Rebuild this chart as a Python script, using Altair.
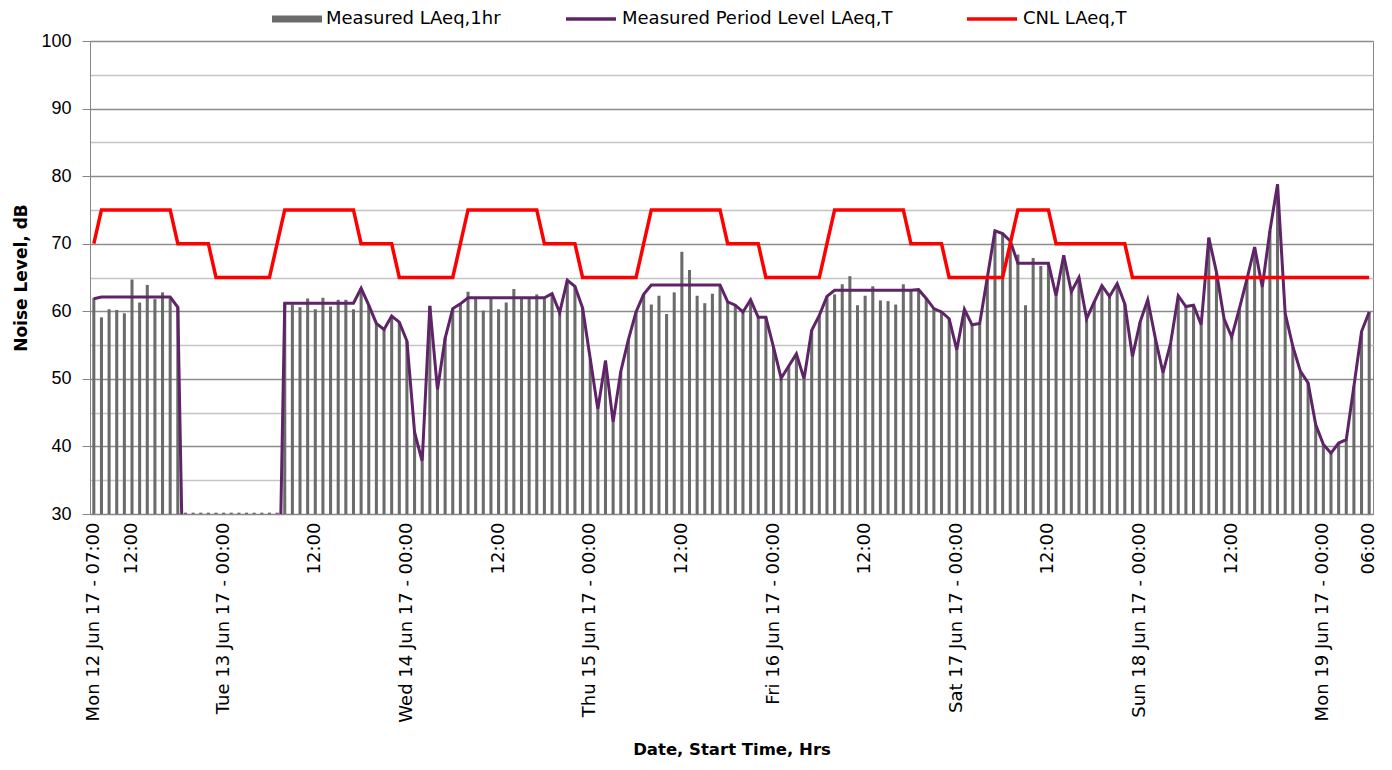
import json
import altair as alt
import pandas as pd

# ---------------- data ----------------
# hour index 0 = Mon 12 Jun 17 07:00, one category per hour, 168 categories
hourly_mon12 = [62.0, 59.1, 60.3, 60.2, 59.7, 64.7, 61.3, 63.9, 61.8, 62.8, 61.9, 60.6,
                30.2, 30.2, 30.2, 30.2, 30.2]
hourly_tue13 = [30.2, 30.2, 30.2, 30.2, 30.2, 30.2, 30.2, 30.2, 61.2, 61.0, 60.6, 61.9,
                60.3, 62.0, 60.7, 61.7, 61.7, 60.3, 63.4, 60.9, 58.2, 57.3, 59.3, 58.4]
hourly_wed14 = [55.6, 42.1, 37.8, 60.8, 48.4, 56.0, 60.4, 61.1, 62.9, 61.9, 60.1, 62.0,
                60.3, 61.3, 63.3, 61.9, 62.0, 62.5, 62.0, 62.6, 59.8, 64.6, 63.7, 60.5]
hourly_thu15 = [53.0, 45.5, 52.7, 43.6, 51.1, 55.8, 59.9, 62.5, 61.0, 62.3, 59.6, 62.8,
                68.8, 66.1, 62.3, 61.2, 62.6, 63.8, 61.4, 60.9, 59.9, 61.7, 59.1, 59.1]
hourly_fri16 = [54.7, 50.1, 51.9, 53.7, 50.0, 57.2, 59.4, 62.2, 62.5, 64.0, 65.2, 60.9,
                62.3, 63.7, 61.6, 61.5, 61.0, 64.0, 63.0, 63.2, 61.9, 60.4, 59.9, 58.9]
hourly_sat17 = [54.3, 60.3, 58.0, 58.2, 65.0, 71.9, 71.5, 70.4, 68.4, 60.9, 67.9, 66.7,
                67.0, 62.3, 68.3, 62.9, 65.0, 58.9, 61.4, 63.8, 62.2, 64.1, 61.1, 53.3]
hourly_sun18 = [58.4, 61.7, 56.0, 50.9, 55.3, 62.3, 60.7, 60.9, 58.0, 70.9, 65.8, 58.9,
                56.2, 60.4, 64.8, 69.5, 63.6, 71.9, 78.8, 59.7, 54.8, 51.1, 49.4, 43.2]
hourly_mon19 = [40.3, 39.0, 40.5, 41.0, 48.9, 57.0, 59.9]

period_mon12 = [61.85, 62.1, 62.1, 62.1, 62.1, 62.1, 62.1, 62.1, 62.1, 62.1, 62.1, 60.6,
                0, 0, 0, 0, 0]
period_tue13 = [0, 0, 0, 0, 0, 0, 0, 0, 61.2, 61.2, 61.2, 61.2,
                61.2, 61.2, 61.2, 61.2, 61.2, 61.2, 63.4, 60.9, 58.2, 57.3, 59.3, 58.4]
period_wed14 = [55.6, 42.1, 37.8, 60.8, 48.4, 56.0, 60.4, 61.1, 62.0, 62.0, 62.0, 62.0,
                62.0, 62.0, 62.0, 62.0, 62.0, 62.0, 62.0, 62.6, 59.8, 64.6, 63.7, 60.5]
period_thu15 = [53.0, 45.5, 52.7, 43.6, 51.1, 55.8, 59.9, 62.5, 63.9, 63.9, 63.9, 63.9,
                63.9, 63.9, 63.9, 63.9, 63.9, 63.9, 61.4, 60.9, 59.9, 61.7, 59.1, 59.1]
period_fri16 = [54.7, 50.1, 51.9, 53.7, 50.0, 57.2, 59.4, 62.2, 63.1, 63.1, 63.1, 63.1,
                63.1, 63.1, 63.1, 63.1, 63.1, 63.1, 63.1, 63.2, 61.9, 60.4, 59.9, 58.9]
period_sat17 = [54.3, 60.3, 58.0, 58.2, 65.0, 71.9, 71.5, 70.4, 67.1, 67.1, 67.1, 67.1,
                67.1, 62.3, 68.3, 62.9, 65.0, 58.9, 61.4, 63.8, 62.2, 64.1, 61.1, 53.3]
period_sun18 = [58.4, 61.7, 56.0, 50.9, 55.3, 62.3, 60.7, 60.9, 58.0, 70.9, 65.8, 58.9,
                56.2, 60.4, 64.8, 69.5, 63.6, 71.9, 78.8, 59.7, 54.8, 51.1, 49.4, 43.2]
period_mon19 = [40.3, 39.0, 40.5, 41.0, 48.9, 57.0, 59.9]

cnl_mon12 = [70, 75, 75, 75, 75, 75, 75, 75, 75, 75, 75, 70, 70, 70, 70, 70, 65]
cnl_tue13 = [65, 65, 65, 65, 65, 65, 65, 70, 75, 75, 75, 75,
             75, 75, 75, 75, 75, 75, 70, 70, 70, 70, 70, 65]
cnl_wed14 = [65, 65, 65, 65, 65, 65, 65, 70, 75, 75, 75, 75,
             75, 75, 75, 75, 75, 75, 70, 70, 70, 70, 70, 65]
cnl_thu15 = [65, 65, 65, 65, 65, 65, 65, 70, 75, 75, 75, 75,
             75, 75, 75, 75, 75, 75, 70, 70, 70, 70, 70, 65]
cnl_fri16 = [65, 65, 65, 65, 65, 65, 65, 70, 75, 75, 75, 75,
             75, 75, 75, 75, 75, 75, 70, 70, 70, 70, 70, 65]
cnl_sat17 = [65, 65, 65, 65, 65, 65, 65, 70, 75, 75, 75, 75,
             75, 70, 70, 70, 70, 70, 70, 70, 70, 70, 70, 65]
cnl_sun18 = [65, 65, 65, 65, 65, 65, 65, 65, 65, 65, 65, 65,
             65, 65, 65, 65, 65, 65, 65, 65, 65, 65, 65, 65]
cnl_mon19 = [65, 65, 65, 65, 65, 65, 65]

tick_idx = [0, 5, 17, 29, 41, 53, 65, 77, 89, 101, 113, 125, 137, 149, 161, 167]
tick_text = ["Mon 12 Jun 17 - 07:00", "12:00", "Tue 13 Jun 17 - 00:00", "12:00",
             "Wed 14 Jun 17 - 00:00", "12:00", "Thu 15 Jun 17 - 00:00", "12:00",
             "Fri 16 Jun 17 - 00:00", "12:00", "Sat 17 Jun 17 - 00:00", "12:00",
             "Sun 18 Jun 17 - 00:00", "12:00", "Mon 19 Jun 17 - 00:00", "06:00"]

y_ticks = [30, 35, 40, 45, 50, 55, 60, 65, 70, 75, 80, 85, 90, 95, 100]

series_names = ["Measured LAeq,1hr", "Measured Period Level LAeq,T", "CNL LAeq,T"]
series_colors = ["#6b6b6b", "#5f2468", "#ff0000"]

# ---------------- table ----------------
hourly = (hourly_mon12 + hourly_tue13 + hourly_wed14 + hourly_thu15 +
          hourly_fri16 + hourly_sat17 + hourly_sun18 + hourly_mon19)
period = (period_mon12 + period_tue13 + period_wed14 + period_thu15 +
          period_fri16 + period_sat17 + period_sun18 + period_mon19)
cnl = (cnl_mon12 + cnl_tue13 + cnl_wed14 + cnl_thu15 +
       cnl_fri16 + cnl_sat17 + cnl_sun18 + cnl_mon19)

df = pd.DataFrame({"idx": list(range(len(hourly))), "hourly": hourly,
                   "period": period, "cnl": cnl})

FONT = "DejaVu Sans"
GRID_DARK = "#8c8c8c"
GRID_LIGHT = "#c4c4c4"

label_expr = "{}[indexof({}, datum.value)]".format(json.dumps(tick_text), json.dumps(tick_idx))

x_axis = alt.Axis(values=tick_idx, labelExpr=label_expr, labelAngle=270,
                  labelAlign="right", labelBaseline="middle", labelPadding=8,
                  labelFont=FONT, labelFontSize=18, labelColor="#000000", labelLimit=0,
                  ticks=False, grid=False, domainColor="#868686",
                  title="Date,  Start Time, Hrs", titleFont=FONT, titleFontSize=16.5,
                  titleFontWeight="bold", titleColor="#000000",
                  titleY=235, titleBaseline="middle")
x_scale = alt.Scale(paddingInner=0.6, paddingOuter=0.3)

y_axis = alt.Axis(values=y_ticks,
                  labelExpr="datum.value % 10 == 0 ? datum.label : ''",
                  labelFont="Liberation Sans", labelFontSize=18, labelColor="#000000",
                  labelPadding=11, tickSize=8,
                  tickColor={"condition": {"test": "datum.value % 10 == 0", "value": "#868686"},
                             "value": "transparent"},
                  grid=True,
                  gridColor={"condition": {"test": "datum.value % 10 == 0", "value": GRID_DARK},
                             "value": GRID_LIGHT},
                  gridWidth=1.3, domainColor="#868686",
                  title="Noise Level, dB", titleFont=FONT, titleFontSize=17,
                  titleFontWeight="bold", titleColor="#000000", titlePadding=10)
y_scale = alt.Scale(domain=[30, 100], nice=False, zero=False)

base = alt.Chart(df)


def legend_for(x_pos, y_pos, symbol_type, stroke_w):
    return alt.Legend(orient="none", legendX=x_pos, legendY=y_pos, title=None,
                      symbolType=symbol_type, symbolSize=2500,
                      symbolStrokeWidth=stroke_w,
                      labelFont=FONT, labelFontSize=18, labelLimit=0,
                      labelColor="#000000", labelOffset=4)


bars = base.transform_calculate(series="'" + series_names[0] + "'").mark_bar(clip=True).encode(
    x=alt.X("idx:O", scale=x_scale, axis=x_axis),
    y=alt.Y("hourly:Q", scale=y_scale, axis=y_axis),
    y2=alt.datum(30),
    color=alt.Color("series:N",
                    scale=alt.Scale(domain=[series_names[0]], range=[series_colors[0]]),
                    legend=legend_for(182, -47, "M-1,-0.14L1,-0.14L1,0.14L-1,0.14Z", 0)),
)

period_line = base.transform_calculate(series="'" + series_names[1] + "'").mark_line(
    clip=True, strokeWidth=3).encode(
    x=alt.X("idx:O", scale=x_scale, axis=x_axis, bandPosition=0.5),
    y=alt.Y("period:Q", scale=y_scale, axis=y_axis),
    color=alt.Color("series:N",
                    scale=alt.Scale(domain=[series_names[1]], range=[series_colors[1]]),
                    legend=legend_for(474, -49, "stroke", 3.5)),
)

cnl_line = base.transform_calculate(series="'" + series_names[2] + "'").mark_line(
    clip=True, strokeWidth=3.5).encode(
    x=alt.X("idx:O", scale=x_scale, axis=x_axis, bandPosition=0.5),
    y=alt.Y("cnl:Q", scale=y_scale, axis=y_axis),
    color=alt.Color("series:N",
                    scale=alt.Scale(domain=[series_names[2]], range=[series_colors[2]]),
                    legend=legend_for(875, -49, "stroke", 3.5)),
)

chart = alt.layer(bars, period_line, cnl_line).resolve_scale(
    color="independent").resolve_legend(color="independent").properties(
    width=1283, height=473,
    padding={"left": 82, "top": 33, "right": 10, "bottom": 246},
    autosize=alt.AutoSizeParams(type="none"),
    background="#ffffff",
).configure_view(stroke="#868686", strokeWidth=1)

chart.save("out.html", embed_options={"renderer": "svg", "actions": False})
